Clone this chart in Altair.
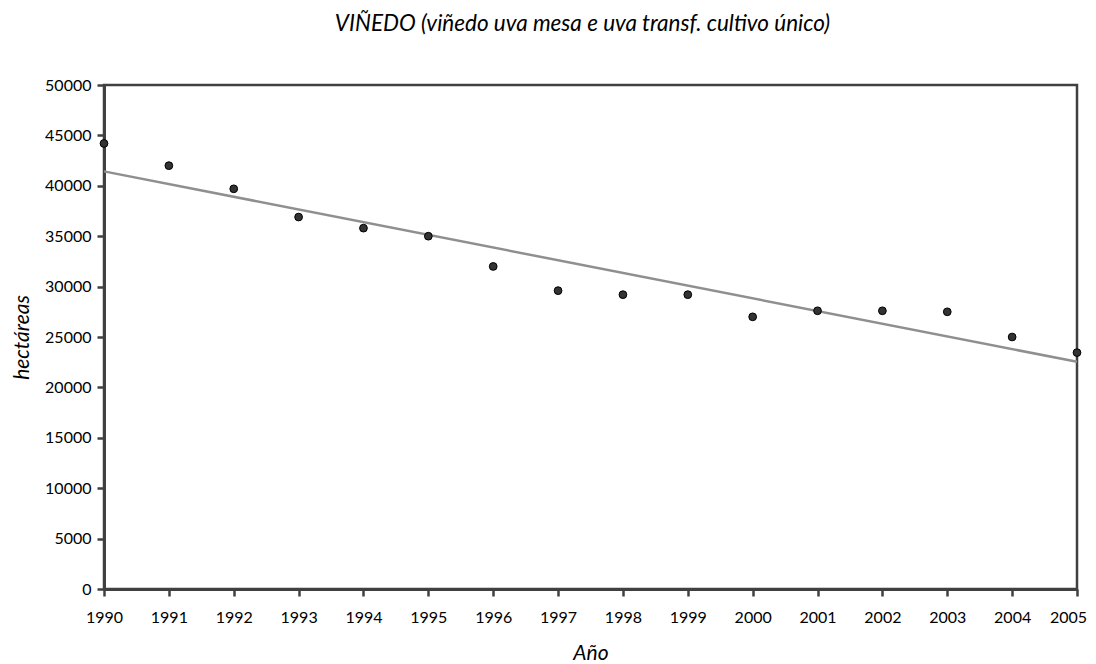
import altair as alt
import pandas as pd

years = list(range(1990, 2006))
hectareas = [44200, 42000, 39700, 36900, 35800, 35000, 32000, 29600,
             29200, 29200, 27000, 27600, 27600, 27500, 25000, 23450]
y_ticks = [0, 5000, 10000, 15000, 20000, 25000, 30000, 35000, 40000, 45000, 50000]

df = pd.DataFrame({"year": years, "value": hectareas})

FONT = "Lato"
AXIS_COLOR = "#404040"

x_enc = alt.X("year:Q",
              scale=alt.Scale(domain=[1990, 2005], nice=False, zero=False),
              axis=alt.Axis(values=years, format="d", title="Año", grid=False,
                            tickSize=7, tickWidth=2.5, tickColor=AXIS_COLOR,
                            domainColor=AXIS_COLOR, domainWidth=3,
                            labelFont=FONT, labelFontSize=16, labelColor="#000000",
                            labelPadding=13, labelFlush=False, labelBound=False,
                            labelOffset=alt.condition("datum.value == 2005",
                                                      alt.value(-9), alt.value(0)),
                            titleFont=FONT, titleFontSize=21, titleFontStyle="italic",
                            titleFontWeight="normal", titleColor="#000000",
                            titleBaseline="alphabetic", titleY=70))
y_enc = alt.Y("value:Q",
              scale=alt.Scale(domain=[0, 50000], nice=False),
              axis=alt.Axis(values=y_ticks, format="d", title="hectáreas", grid=False,
                            tickSize=7, tickWidth=2.5, tickColor=AXIS_COLOR,
                            domainColor=AXIS_COLOR, domainWidth=3,
                            labelFont=FONT, labelFontSize=16, labelColor="#000000",
                            labelPadding=6,
                            titleFont=FONT, titleFontSize=21, titleFontStyle="italic",
                            titleFontWeight="normal", titleColor="#000000",
                            titleBaseline="alphabetic", titleX=-76))

base = alt.Chart(df)

trend = base.transform_regression(
    "year", "value", extent=[1990, 2005]
).mark_line(color="#8f8f8f", strokeWidth=2.5, clip=False).encode(x=x_enc, y=y_enc)

points = base.mark_point(filled=True, size=60, fill="#333333", stroke="#000000",
                         strokeWidth=1, opacity=1, clip=False).encode(x=x_enc, y=y_enc)

chart = alt.layer(trend, points).properties(
    width=973,
    height=504,
    title=alt.TitleParams("VIÑEDO (viñedo uva mesa e uva transf. cultivo único)",
                          font=FONT, fontSize=22.5, fontStyle="italic", fontWeight="normal",
                          color="#000000", anchor="middle", offset=42, dx=-8),
    autosize=alt.AutoSizeParams(type="none"),
    padding={"left": 96, "top": 77, "right": 11, "bottom": 75},
).configure_view(stroke=AXIS_COLOR, strokeWidth=2.5)

chart.save("out.html", embed_options={"renderer": "svg", "actions": False})
